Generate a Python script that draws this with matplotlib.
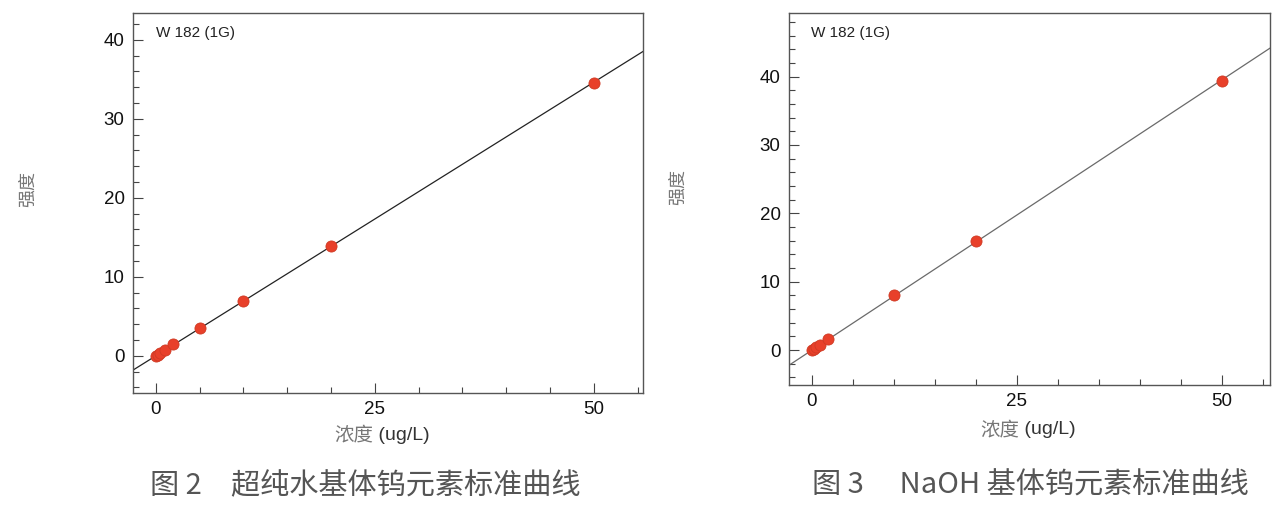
import matplotlib
matplotlib.use("Agg")
import matplotlib.pyplot as plt
import numpy as np
from matplotlib.ticker import MultipleLocator

# ---- data ----
x_water = [0, 0.2, 0.5, 1, 2, 5, 10, 20, 50]
y_water = [0.02, 0.15, 0.36, 0.7, 1.45, 3.5, 7.0, 13.9, 34.6]
fit_water = (0.693, 0.0)   # slope, intercept

x_naoh = [0, 0.2, 0.5, 1, 2, 10, 20, 50]
y_naoh = [0.0, 0.2, 0.45, 0.8, 1.6, 8.0, 16.0, 39.4]
fit_naoh = (0.79, 0.0)

xticks = [0, 25, 50]
yticks = [0, 10, 20, 30, 40]
element_label = "W 182 (1G)"
xlabel_cn = "浓度"
xlabel_unit = " (ug/L)"
ylabel = "强度"
caption_left = "图 2　超纯水基体钨元素标准曲线"
caption_right = "图 3　 NaOH 基体钨元素标准曲线"

plt.rcParams['font.family'] = ['Liberation Sans', 'Noto Sans CJK SC', 'DejaVu Sans']

fig = plt.figure(figsize=(12.8, 5.08), dpi=100)

def make_panel(rect, xs, ys, fit, xlim, ylim, line_color):
    ax = fig.add_axes(rect)
    ax.set_xlim(*xlim)
    ax.set_ylim(*ylim)
    xx = np.array(xlim)
    ax.plot(xx, fit[0] * xx + fit[1], color=line_color, lw=0.9, zorder=2)
    ax.plot(xs, ys, 'o', color='#e8402a', mec='#cf3a24', mew=0.6, ms=8, zorder=3)
    ax.set_xticks(xticks)
    ax.set_yticks(yticks)
    ax.xaxis.set_minor_locator(MultipleLocator(5))
    ax.yaxis.set_minor_locator(MultipleLocator(2))
    ax.tick_params(which='both', direction='in', colors='#444444', labelcolor='#111111',
                   labelsize=13.5)
    ax.tick_params(which='major', length=7, width=0.8, pad=6)
    ax.tick_params(which='minor', length=4, width=0.8)
    for s in ax.spines.values():
        s.set_color('#555555')
        s.set_linewidth(1.0)
    ax.text(0.046, 0.965, element_label, transform=ax.transAxes, fontsize=11,
            color='#222222', va='top', ha='left')
    return ax

axL = make_panel([133/1280, 1 - 393/508, 510/1280, 380/508],
                 x_water, y_water, fit_water, (-2.6, 55.6), (-4.7, 43.4), '#222222')
axR = make_panel([789/1280, 1 - 385/508, 481/1280, 372/508],
                 x_naoh, y_naoh, fit_naoh, (-2.8, 55.9), (-5.1, 49.3), '#6a6a6a')

cjk = ['Noto Sans CJK SC', 'DejaVu Sans']

# x labels
def xlabel_at(xc, yc):
    fig.text(xc / 1280, 1 - yc / 508, xlabel_cn, family=cjk, fontsize=14,
             color='#777777', ha='right', va='center')
    fig.text(xc / 1280, 1 - yc / 508, xlabel_unit, fontsize=14,
             color='#333333', ha='left', va='center')

xlabel_at(373, 435)
xlabel_at(1019, 430)

# y labels
fig.text(28 / 1280, 1 - 189 / 508, ylabel, family=cjk, fontsize=13, color='#777777',
         rotation=90, ha='center', va='center')
fig.text(678 / 1280, 1 - 187 / 508, ylabel, family=cjk, fontsize=13, color='#777777',
         rotation=90, ha='center', va='center')

# captions
fig.text(365 / 1280, 1 - 486 / 508, caption_left, family=cjk, fontsize=21,
         color='#555555', ha='center', va='center', weight='light')
fig.text(1030 / 1280, 1 - 486 / 508, caption_right, family=cjk, fontsize=21,
         color='#555555', ha='center', va='center', weight='light')

fig.savefig("out.png", dpi=100)
